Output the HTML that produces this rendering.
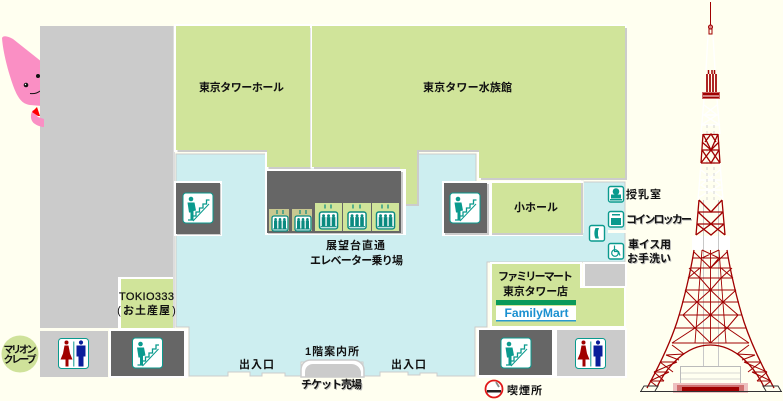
<!DOCTYPE html>
<html><head><meta charset="utf-8">
<style>
html,body{margin:0;padding:0;background:#fffff0;}
svg{display:block;}
text{font-family:"Liberation Sans","Noto Sans CJK JP",sans-serif;font-weight:700;font-size:11px;fill:#111;text-anchor:middle;}
.sh{filter:drop-shadow(1px 1px 0 #bbb);}
</style></head><body>
<svg width="783" height="401" viewBox="0 0 783 401" xmlns="http://www.w3.org/2000/svg">
<defs>
<g id="stair">
<rect x="0" y="0" width="30" height="30" rx="3" fill="#fff" stroke="#0a9a8e" stroke-width="1"/>
<circle cx="8" cy="6" r="2.300" fill="#0a9a8e"/>
<path d="M4.500 9.500h7l1.500 8-2.500.5v9H7.500v-7.500H6z" fill="#0a9a8e"/>
<path d="M5 27h4.500v-4h3.500v-4h3.500v-4h3.500v-4h3.500v-4h3" fill="none" stroke="#0a9a8e" stroke-width="1.300"/>
<path d="M10 28L26 11" fill="none" stroke="#0a9a8e" stroke-width="1"/>
</g>
<g id="wc">
<rect x="0" y="0" width="30" height="30" rx="3" fill="#fff" stroke="#0a9a8e" stroke-width="1"/>
<circle cx="8" cy="4" r="2" fill="#a00000"/>
<path d="M6 7h4l1.500 8 2.500 6H10v7H7v-7H2l2.500-6z" fill="#a00000"/>
<rect x="14.800" y="3" width="1" height="25" fill="#0a9a8e"/>
<circle cx="22.500" cy="4" r="2.100" fill="#0a1e9a"/>
<path d="M18 7h9v11h-2v10h-5V18h-2z" fill="#0a1e9a"/>
</g>
<g id="lift">
<rect x="0" y="0" width="16" height="15" rx="2" fill="#fff" stroke="#0a8a80" stroke-width="1.300"/>
<g fill="#0a8a80"><rect x="2" y="4.500" width="3.200" height="8"/><rect x="6.400" y="4.500" width="3.200" height="8"/><rect x="10.800" y="4.500" width="3.200" height="8"/>
<circle cx="3.600" cy="3.300" r="1.300"/><circle cx="8" cy="3.300" r="1.300"/><circle cx="12.400" cy="3.300" r="1.300"/></g>
<rect x="1" y="12.500" width="14" height="1" fill="#0a8a80"/>
</g>
<polygon id="g1" points="176,26 310,26 310,167 267,167 267,150 176,150"/>
<polygon id="g2" points="312,26 625,26 625,178 479,178 479,150 417,150 417,204 400,204 400,167 312,167"/>
<polygon id="g3" points="492,264 580,264 580,288 624,288 624,326 492,326"/>
</defs>

<!-- mascot body -->
<path d="M2 38C3 35 8 36 13 39L42 62V106L30 105C22 104 18 98 14 88C8 72 3 52 2 38Z" fill="#fa8fc4"/>
<circle cx="26" cy="85" r="2.300" fill="#111"/><circle cx="38" cy="76" r="2" fill="#111"/>
<circle cx="25.500" cy="84.500" r="0.700" fill="#fff"/>
<path d="M30 93.500C34 94 37 93.500 40 91" fill="none" stroke="#111" stroke-width="1"/>

<!-- cyan floor -->
<path d="M176 154H476V182H625V262H487V327H475V376H437V373H420V375H408V372H380V376H363V362H301V376H285V373H262V376H250V372H228V376H189V327H176Z" fill="#cdeef0" stroke="#ccc" stroke-width="1"/>
<rect x="608" y="230" width="18" height="3" fill="#fffff5"/>
<rect x="581" y="180" width="3" height="53" fill="#f4f4ec"/>
<rect x="626" y="180" width="3" height="150" fill="#fffff0"/>

<!-- gray left -->
<rect x="40" y="26" width="133" height="302" fill="#cbcbcb"/>
<rect x="118" y="277" width="56" height="52" fill="#fff"/>
<rect x="121" y="279" width="52" height="49" fill="#d0e49a"/>
<rect x="173" y="26" width="2" height="302" fill="#ddd"/>

<!-- mascot hand over the wall -->
<path d="M33 110C30 114 30 121 35 124C38 126 42 127 44 127V119L38 117C36 115 36 112 37 110Z" fill="#fa8fc4"/>
<path d="M32 112L37 107L40 116L38 116Z" fill="#f00"/>

<!-- green blocks -->
<use href="#g1" fill="#fff" stroke="#fff" stroke-width="4"/>
<use href="#g1" fill="#ccc" transform="translate(1.500 2)"/>
<use href="#g1" fill="#d0e49a"/>
<use href="#g2" fill="#fff" stroke="#fff" stroke-width="3"/>
<use href="#g2" fill="#ccc" transform="translate(2 2)"/>
<use href="#g2" fill="#d0e49a"/>
<rect x="489" y="181" width="94" height="55" fill="#fff"/>
<rect x="492" y="183" width="91" height="52" fill="#ccc"/>
<rect x="492" y="183" width="89" height="50" fill="#d0e49a"/>
<use href="#g3" fill="#fff" stroke="#fff" stroke-width="4"/>
<use href="#g3" fill="#d0e49a"/>
<rect x="583" y="262" width="44" height="25" fill="#fff"/>
<rect x="585" y="264" width="40" height="22" fill="#cbcbcb"/>

<!-- elevator hall -->
<rect x="265" y="169" width="141" height="66" fill="#fff"/>
<rect x="268" y="172" width="135" height="62" fill="#ccc"/>
<rect x="267" y="171" width="134" height="62" fill="#666"/>
<rect x="269" y="209" width="20" height="22" fill="#c8c890"/>
<rect x="292" y="209" width="20" height="22" fill="#c8c890"/>
<rect x="315" y="203" width="27" height="28" fill="#d0e49a"/>
<rect x="343" y="203" width="28" height="28" fill="#d0e49a"/>
<rect x="372" y="203" width="27" height="28" fill="#d0e49a"/>
<use href="#lift" transform="translate(272 216)"/>
<use href="#lift" transform="translate(295 216)"/>
<use href="#lift" transform="translate(319.500 212) scale(1.130)"/>
<use href="#lift" transform="translate(348 212) scale(1.130)"/>
<use href="#lift" transform="translate(376.500 212) scale(1.130)"/>
<g stroke="#0a8a80" stroke-width="1.200"><path d="M277 210v4M283 210v4M300 210v4M306 210v4M325 204.500v4M331 204.500v4M353 204.500v4M360 204.500v4M382 204.500v4M388 204.500v4"/></g>

<!-- stairs -->
<rect x="174" y="181" width="48" height="55" fill="#fff"/>
<rect x="177" y="184" width="44" height="51" fill="#ccc"/>
<rect x="176" y="183" width="44" height="51" fill="#666"/>
<use href="#stair" transform="translate(183 193)"/>
<rect x="442" y="181" width="48" height="55" fill="#fff"/>
<rect x="445" y="184" width="44" height="51" fill="#ccc"/>
<rect x="444" y="183" width="43" height="50" fill="#666"/>
<use href="#stair" transform="translate(450 193)"/>

<rect x="40" y="331" width="68" height="46" fill="#cbcbcb"/>
<use href="#wc" transform="translate(58.500 338.500)"/>
<rect x="109" y="329" width="79" height="49" fill="#fff"/>
<rect x="111" y="331" width="73" height="45" fill="#666"/>
<use href="#stair" transform="translate(132.500 338)"/>
<rect x="477" y="328" width="150" height="50" fill="#fff"/>
<rect x="479" y="330" width="73" height="45" fill="#666"/>
<use href="#stair" transform="translate(501 338)"/>
<rect x="557" y="330" width="68" height="46" fill="#cbcbcb"/>
<use href="#wc" transform="translate(575.500 338.500)"/>

<!-- ticket booth -->
<path d="M301 377V370C301 364 305 360 311 360H353C359 360 364 364 364 370V377Z" fill="#fff" stroke="#ccc" stroke-width="1.500"/>
<path d="M305 377V372C305 367 309 364 313 364H351C356 364 360 367 361 372V377Z" fill="#cbcbcb"/>

<!-- right-side icons -->
<g fill="#fff" stroke="#0a9a8e" stroke-width="1.400">
<rect x="608.500" y="186.500" width="15" height="15.500" rx="2"/>
<rect x="608.500" y="211.500" width="15" height="15.500" rx="2"/>
<rect x="608.500" y="243.500" width="15" height="15.500" rx="2"/>
<rect x="589.500" y="225.500" width="15" height="15.500" rx="2"/>
</g>
<g fill="#0a9a8e">
<circle cx="616" cy="191.500" r="3.300"/><rect x="611" y="194.500" width="10" height="4"/><rect x="610" y="199" width="12" height="1.500"/>
<rect x="611" y="218" width="10" height="7"/><rect x="612" y="214" width="8" height="1.500"/>
<path d="M595.500 228h3.500l-1 3v4.500l1 3h-3.500c-1.500-3-1.500-7.500 0-10.500z"/>
</g>
<circle cx="615" cy="253" r="3.300" fill="none" stroke="#0a9a8e" stroke-width="1.200"/><path d="M614.500 245.500v6h4l1.500 4" fill="none" stroke="#0a9a8e" stroke-width="1.200"/>

<!-- smoking -->
<circle cx="494" cy="389" r="8.500" fill="#fff" stroke="#e01818" stroke-width="1.800"/>
<rect x="487" y="390" width="14" height="2.500" fill="#222"/>
<path d="M496 382l3 5" stroke="#888" stroke-width="1.800"/>

<!-- FamilyMart -->
<rect x="496" y="300" width="80" height="5" fill="#0a9a5a"/>
<rect x="496" y="306" width="80" height="14" fill="#fff"/>
<rect x="496" y="320" width="80" height="1.500" fill="#2a9ad0"/>
<text x="536.500" y="317" textLength="64" lengthAdjust="spacingAndGlyphs" style="font-size:12px;fill:#1a90d0">FamilyMart</text>

<!-- Marion circle -->
<circle cx="20" cy="354" r="18.500" fill="#cfe29a"/>

<!-- labels -->
<text x="241.500" y="91" textLength="85">東京タワーホール</text>
<text x="467.500" y="91" textLength="89">東京タワー水族館</text>
<text x="355.500" y="249" textLength="59">展望台直通</text>
<text x="356.500" y="264" textLength="93">エレベーター乗り場</text>
<text x="536" y="211" textLength="44">小ホール</text>
<text x="643.500" y="198" textLength="35">授乳室</text>
<g class="sh"><text x="659" y="223" textLength="66">コインロッカー</text></g>
<g class="sh"><text x="649.500" y="248" textLength="43">車イス用</text>
<text x="649" y="262" textLength="44">お手洗い</text></g>
<text x="535.500" y="280" textLength="75">ファミリーマート</text>
<text x="535.500" y="295" textLength="65">東京タワー店</text>
<text x="146.500" y="300" textLength="55" style="font-weight:400;stroke:#111;stroke-width:.25">TOKIO333</text>
<text x="119" y="314" style="font-weight:400">(</text>
<text x="146.500" y="314" textLength="47">お土産屋</text>
<text x="174" y="314" style="font-weight:400">)</text>
<text x="20" y="353" textLength="33" style="font-size:10px">マリオン</text>
<text x="20" y="363" textLength="33" style="font-size:10px">クレープ</text>
<text x="256.500" y="368" textLength="35">出入口</text>
<text x="332" y="355" textLength="54">1階案内所</text>
<text x="408.500" y="368" textLength="35">出入口</text>
<g class="sh"><text x="331.500" y="388" textLength="61">チケット売場</text></g>
<text x="524.500" y="394" textLength="35">喫煙所</text>

<!-- Tower -->
<g fill="none">
<g stroke="#fff" stroke-width="1.400">
<path d="M708 35L706 70M713 35L715 70"/>
<path d="M704 99L701 134M717 99L720 134M704 105L717 115L701 125M717 105L704 115L720 125M703 115H718M702 125H719"/>
<path d="M701 164L698 200M720 164L723 200M701 170L720 185L698 198M720 170L701 185L723 198M700 180H721M699 190H722"/>
</g>
<g stroke="#ccc" stroke-width="0.800" stroke-dasharray="3 3"><path d="M707 125V200M714 125V200"/></g>
<rect x="692" y="236" width="38" height="14" fill="#fff"/>

<!-- gray masts behind the lattice -->
<path d="M703.500 200V366M718.500 200V366" stroke="#c8c8c8" stroke-width="1"/>

<g stroke="#a00000">
<path d="M710.500 2V25" stroke-width="1"/>
<circle cx="710.500" cy="27" r="2" fill="#d88"/>
<rect x="709" y="29" width="3" height="5" stroke-width="1"/>
<path d="M707 74V92M710 74V92M713 74V92M716 74V92" stroke-width="1.700"/>
<path d="M708.500 70V74M712 70V74M714.500 70V74" stroke-width="1.500"/>
<rect x="702.500" y="92.500" width="17" height="6" fill="#a00000" stroke="#c66" stroke-width="1"/>
<path d="M703 96H719" stroke="#fff" stroke-width="1"/>

<!-- middle lattice -->
<path d="M703 134L701 163M718 134L720 163M703 134.500H718M702 150H719M701 163H720M703 134L711 150L718 134M702 150L711 163L719 150M701 163L711 150L720 163M705 142L711 134L716 142M702 142L711 150L719 142" stroke-width="1.300"/>
<path d="M699 200L696 235M722 200L725 235M698 212H723M697 224H724M699 200L711 212L722 200M698 212L711 224L723 212M697 224L711 235L724 224M696 235L711 224L725 235" stroke-width="1.300"/>

<!-- main lattice -->
<path d="M694 250C691 270 684 300 677 322C670 343 658 368 647 388M727 250C730 270 737 300 744 322C751 343 763 368 774 388" stroke-width="1.300"/>
<path d="M657 387C666 368 685 345 710.500 345C736 345 755 368 764 387" stroke-width="1.300"/>
<path d="M693 258H728M691 268H730M688 278H733M685 290H736M682 302H739M679 315H742M675 328H746M672 343H749" stroke-width="1"/>
<path d="M702 250L695 343M710.500 250V343M719 250L726 343" stroke-width="0.900"/>
<path d="M694 252L710.500 268L727 252M702 250L719 258L710.500 268M719 250L702 258M689 268L700 278L710.500 290L723 302L738 315M732 268L721 278L710.500 290L697 302L683 315M685 290L697 302L710.500 315L727 328L749 343M736 290L723 302L710.500 315L695 328L672 343M688 278L700 268M733 278L721 268M680 328L695 328L710.500 343L727 328M683 315L695 328M738 315L727 328" stroke-width="1"/>
<!-- leg rungs -->
<path d="M672 345L684 354M666 355L679 360M660 362H677M654 372H669M650 381H664M666 355L684 354M660 362L673 372M677 362L654 372M654 372L664 381M669 372L650 381M650 381L658 387" stroke-width="1"/>
<path d="M749 345L737 354M755 355L742 360M761 362H744M767 372H752M771 381H757M755 355L737 354M761 362L748 372M744 362L767 372M767 372L757 381M752 372L771 381M771 381L763 387" stroke-width="1"/>
</g>

<!-- base -->
<rect x="680.500" y="366.500" width="60" height="25" stroke="#bbb" stroke-width="1"/>
<path d="M681 373H740M681 379H740M681 385H740" stroke="#ccc" stroke-width="0.800"/>
<rect x="673" y="383" width="75" height="10" fill="#eec0c0"/>
<rect x="677" y="385" width="67" height="7" fill="#d07070"/>
<rect x="682" y="387" width="57" height="4" fill="#a00000"/>
<path d="M640 391.500H782" stroke="#333" stroke-width="1"/>
<path d="M641 391L644 386H658L655 391M781 391L778 386H763L766 391" stroke="#333" stroke-width="1"/>
</g>
</svg>
</body></html>
